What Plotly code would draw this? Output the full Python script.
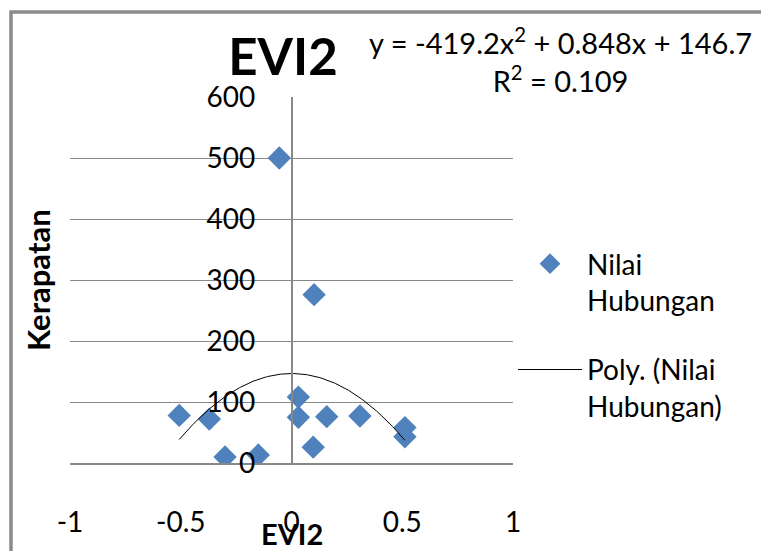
import numpy as np
import plotly.graph_objects as go

# ---- data ----
evi2 = [-0.055, 0.102, 0.031, 0.031, 0.159, 0.309, 0.512, 0.512, 0.098, -0.507, -0.371, -0.300, -0.150]
kerapatan = [500, 276, 108, 75, 76, 77, 58, 43, 26, 78, 72, 10, 13]
poly_coef = [-419.2, 0.848, 146.7]  # from the trendline equation shown on the chart
x_tickvals = [-1, -0.5, 0, 0.5, 1]
x_ticktext = ["-1", "-0.5", "0", "0.5", "1"]
y_tickvals = [0, 100, 200, 300, 400, 500, 600]
y_ticktext = ["0", "100", "200", "300", "400", "500", "600"]

W, H = 769, 551
OFF = 8  # page offset of the figure inside the window
L, R, T, B = 70 - OFF, 513 - OFF, 97 - OFF, 463 - OFF  # plot area in figure pixels


def px(xp):
    return (xp - OFF - L) / (R - L)


def py(yp):
    return (B - (yp - OFF)) / (B - T)


FONT = "Lato"
GRID = "#898989"

xs = np.linspace(min(evi2), max(evi2), 200)
ys = np.polyval(poly_coef, xs)

fig = go.Figure()
fig.add_trace(go.Scatter(
    x=evi2, y=kerapatan, mode="markers", name="Nilai<br>Hubungan", legendgroup="a",
    marker=dict(symbol="diamond", size=18, color="#4F81BD", line=dict(width=0)),
))
fig.add_trace(go.Scatter(
    x=xs, y=ys, mode="lines", name="Poly. (Nilai<br>Hubungan)", legendgroup="b",
    line=dict(color="black", width=1),
))

fig.update_layout(
    width=W, height=H,
    margin=dict(l=L, r=W - R, t=T, b=H - B, autoexpand=False),
    paper_bgcolor="white", plot_bgcolor="white",
    font=dict(family=FONT, size=28, color="black"),
    title=dict(text="EVI2", x=(283 - OFF) / W, y=1 - (57 - OFF) / H, xanchor="center", yanchor="middle",
               font=dict(family=FONT, size=51, color="black", weight="bold")),
    xaxis=dict(range=[-1, 1], tickvals=x_tickvals, ticktext=x_ticktext,
               showgrid=False, zeroline=False, showline=True, linecolor=GRID, linewidth=1.5,
               ticks="", ticklabelstandoff=34, tickfont=dict(family=FONT, size=28, color="black"),
               domain=[0, 1], fixedrange=True),
    yaxis=dict(range=[0, 600], tickvals=y_tickvals, ticktext=y_ticktext,
               anchor="free", position=0.5, showline=True, linecolor=GRID, linewidth=1.5,
               showgrid=True, gridcolor=GRID, gridwidth=1, zeroline=False,
               ticks="", ticklabelstandoff=30, tickfont=dict(family=FONT, size=28, color="black"),
               fixedrange=True),
    showlegend=True,
    legend=dict(x=px(513), y=py(335), xanchor="left", yanchor="middle",
                bgcolor="rgba(0,0,0,0)", font=dict(family=FONT, size=28, color="black"),
                itemwidth=64, valign="top", tracegroupgap=30),
)

fig.add_annotation(text="y = -419.2x<sup>2</sup> + 0.848x + 146.7<br>R<sup>2</sup> = 0.109",
                   xref="paper", yref="paper", x=px(560), y=py(60), xanchor="center", yanchor="middle",
                   showarrow=False, align="center", font=dict(family=FONT, size=29, color="black"))
fig.add_annotation(text="Kerapatan", textangle=-90, xref="paper", yref="paper",
                   x=px(38), y=py(280), xanchor="center", yanchor="middle", showarrow=False,
                   font=dict(family=FONT, size=31, color="black", weight="bold"))
fig.add_annotation(text="EVI2", xref="paper", yref="paper",
                   x=px(292), y=py(533), xanchor="center", yanchor="middle", showarrow=False,
                   font=dict(family=FONT, size=29, color="black", weight="bold"))

# outer chart border (top and left edges visible)
fig.add_shape(type="path", xref="paper", yref="paper",
              path=f"M {px(11)} {py(560)} L {px(11)} {py(12)} L {px(780)} {py(12)}",
              line=dict(color="#8a8a8a", width=3.5), layer="above")

fig.write_html("out.html")
